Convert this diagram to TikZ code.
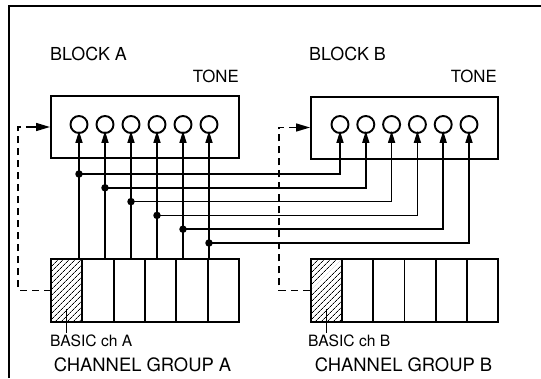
\documentclass[tikz,border=0pt]{standalone}
\usepackage{fontspec}
\setmainfont{TeX Gyre Heros}
\usetikzlibrary{arrows.meta,patterns.meta}
\begin{document}
\begin{tikzpicture}[x=1pt,y=-1pt,
  frame/.style={line width=2pt},
  blockbox/.style={draw,line width=2pt,minimum width=188pt,minimum height=62pt,inner sep=0},
  tonering/.style={draw,circle,line width=1.9pt,minimum size=17pt,inner sep=0},
  cell/.style={draw,line width=1.8pt,minimum width=31.3pt,minimum height=63pt,inner sep=0},
  basiccell/.style={cell,line width=2pt,pattern={Lines[angle=45,distance=4pt,line width=0.8pt]}},
  wire/.style={line width=1.6pt},
  feed/.style={wire,-{Triangle[length=12pt,width=7pt]}},
  junction/.style={circle,fill,inner sep=0,minimum size=7.5pt},
  ctrl/.style={line width=1.5pt,dash pattern=on 7pt off 5pt},
  ctrltip/.style={-{Triangle[length=14pt,width=8pt]}},
  blocklbl/.style={inner sep=0,font=\fontsize{17.9}{21}\selectfont},
  grouplbl/.style={inner sep=0,font=\fontsize{18.4}{22}\selectfont},
  tonelbl/.style={inner sep=0,font=\fontsize{16.8}{20}\selectfont},
  smalllbl/.style={inner sep=0,font=\fontsize{15.6}{18}\selectfont}
]
\useasboundingbox (0,0) rectangle (541,378);
\draw[frame] (9,378) -- (9,6) -- (541,6);

% blocks
\node[blockbox] (blockA) at (145,127) {};
\node[blockbox,minimum width=187pt] (blockB) at (404.5,127.5) {};
\node[blocklbl,anchor=base west] (labA) at (50,60) {BLOCK A};
\node[blocklbl,anchor=base west] (labB) at (309,60) {BLOCK B};
\node[tonelbl,anchor=base east] (toneA) at (239,82) {TONE};
\node[tonelbl,anchor=base east] (toneB) at (497,82) {TONE};

\foreach \i in {1,...,6}{
  \node[tonering] (a\i) at ({79+26*(\i-1)},124.5) {};
  \node[tonering] (b\i) at ({340+25.8*(\i-1)},124.5) {};
}

% channel groups
\node[basiccell] (ca1) at ({51+31.33*0.5},290.5) {};
\node[basiccell,minimum width=31.2pt] (cb1) at ({311+31.17*0.5},290.5) {};
\foreach \i in {2,...,6}{
  \node[cell] (ca\i) at ({51+31.33*(\i-0.5)},290.5) {};
  \node[cell,minimum width=31.2pt] (cb\i) at ({311+31.17*(\i-0.5)},290.5) {};
}
\node[smalllbl,anchor=base west] (basicA) at (50,346) {BASIC ch A};
\node[smalllbl,anchor=base west] (basicB) at (308,346) {BASIC ch B};
\node[grouplbl,anchor=base] (grpA) at (142.5,371.5) {CHANNEL GROUP A};
\node[grouplbl,anchor=base] (grpB) at (403.5,371.5) {CHANNEL GROUP B};
\draw[wire] (ca1 |- 0,309) -- ([yshift=1pt]ca1 |- basicA.north);
\draw[wire] (cb1 |- 0,309) -- ([yshift=1pt]cb1 |- basicB.north);

% wiring
\foreach \i in {1,...,6}{
  \pgfmathsetmacro{\yy}{174+13.8*(\i-1)}
  \coordinate (h\i) at (0,\yy);
  \draw[feed] (a\i |- ca1.north) -- ([yshift=3pt]a\i.south);
  \node[junction] (ja\i) at (a\i |- h\i) {};
  \draw[feed] (ja\i.center) -- (b\i |- h\i) -- ([yshift=3pt]b\i.south);
}

% dashed control paths
\draw[ctrl] (ca1.west) -- (18,290.5) -- (18,127) -- (30,127);
\draw[ctrl,ctrltip] (30,127) -- (blockA.west);
\draw[ctrl] (cb1.west) -- (279,290.5) -- (279,127.5) -- (290,127.5);
\draw[ctrl,ctrltip] (290,127.5) -- (blockB.west);
\end{tikzpicture}
\end{document}
